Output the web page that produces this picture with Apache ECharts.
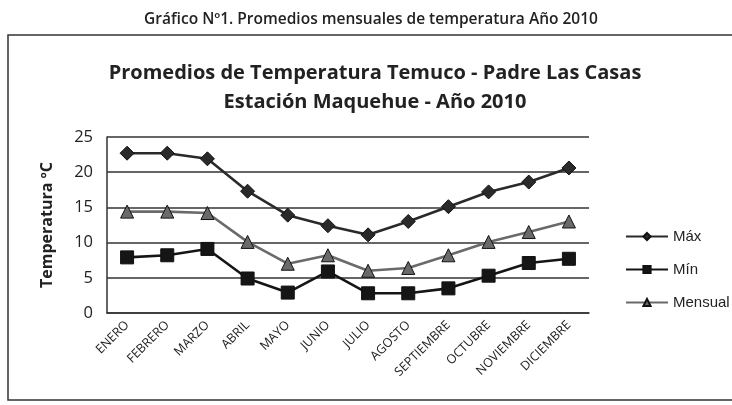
<!DOCTYPE html>
<html><head><meta charset="utf-8">
<script src="https://cdn.jsdelivr.net/npm/echarts@6/dist/echarts.min.js"></script>
<style>html,body{margin:0;padding:0;background:#fff}#c{width:732px;height:405px}</style>
</head><body><div id="c"></div>
<script>
const months = ['ENERO','FEBRERO','MARZO','ABRIL','MAYO','JUNIO','JULIO','AGOSTO','SEPTIEMBRE','OCTUBRE','NOVIEMBRE','DICIEMBRE'];
const maxValues = [22.7, 22.7, 21.9, 17.3, 13.9, 12.4, 11.1, 13.0, 15.1, 17.2, 18.6, 20.6];
const minValues = [7.9, 8.2, 9.1, 4.9, 2.9, 5.9, 2.8, 2.8, 3.5, 5.3, 7.1, 7.7];
const monthlyValues = [14.4, 14.4, 14.2, 10.1, 7.0, 8.2, 6.0, 6.4, 8.2, 10.1, 11.5, 13.0];
const seriesNames = ['Máx', 'Mín', 'Mensual'];
const yTicks = [0, 5, 10, 15, 20, 25];

const chart = echarts.init(document.getElementById('c'));
const font = 'Open Sans';
function mk(name, data, color, symbol, size) {
  return {
    name, type: 'line', data, symbol, symbolSize: size,
    lineStyle: { color, width: 2.6 },
    itemStyle: { color, borderColor: '#111', borderWidth: 1 },
    emphasis: { disabled: true }, z: 3
  };
}
chart.setOption({
  animation: false,
  backgroundColor: '#fff',
  graphic: [
    { type: 'rect', shape: { x: 8, y: 35, width: 740, height: 365 }, style: { fill: 'none', stroke: '#333', lineWidth: 1.5 }, z: -1 }
  ],
  title: [
    { text: 'Gráfico Nº1. Promedios mensuales de temperatura Año 2010', left: 366, textAlign: 'center', top: 7,
      textStyle: { fontFamily: font, fontWeight: 600, fontSize: 15.5, color: '#222' } },
    { text: 'Promedios de Temperatura Temuco - Padre Las Casas\nEstación Maquehue - Año 2010', left: 370, textAlign: 'center', top: 54,
      textStyle: { fontFamily: font, fontWeight: 700, fontSize: 20, lineHeight: 29, color: '#222' } }
  ],
  legend: {
    orient: 'vertical', left: 620, top: 224, itemGap: 18, itemWidth: 42, itemHeight: 9,
    data: seriesNames,
    textStyle: { fontFamily: 'Liberation Sans', fontSize: 15, color: '#222' }
  },
  grid: { left: 107, right: 143, top: 137, bottom: 92 },
  xAxis: {
    type: 'category', data: months, boundaryGap: true,
    axisLine: { lineStyle: { color: '#333', width: 1.5 } },
    axisTick: { show: false },
    axisLabel: { rotate: 45, interval: 0, fontFamily: font, fontSize: 12.5, color: '#222', margin: 10 }
  },
  yAxis: {
    type: 'value', min: yTicks[0], max: yTicks[yTicks.length - 1], interval: 5,
    name: 'Temperatura ºC', nameLocation: 'middle', nameGap: 52, nameRotate: 90,
    nameTextStyle: { fontFamily: font, fontWeight: 700, fontSize: 16, color: '#222' },
    axisLine: { show: true, lineStyle: { color: '#333', width: 1.5 } },
    axisTick: { show: false },
    axisLabel: { fontFamily: font, fontSize: 16.5, color: '#222', margin: 14 },
    splitLine: { lineStyle: { color: '#333', width: 1.5 } }
  },
  series: [
    mk(seriesNames[0], maxValues, '#2a2a2a', 'diamond', 14),
    mk(seriesNames[1], minValues, '#151515', 'rect', 13),
    mk(seriesNames[2], monthlyValues, '#6a6a6a', 'triangle', 13)
  ]
});
</script></body></html>
